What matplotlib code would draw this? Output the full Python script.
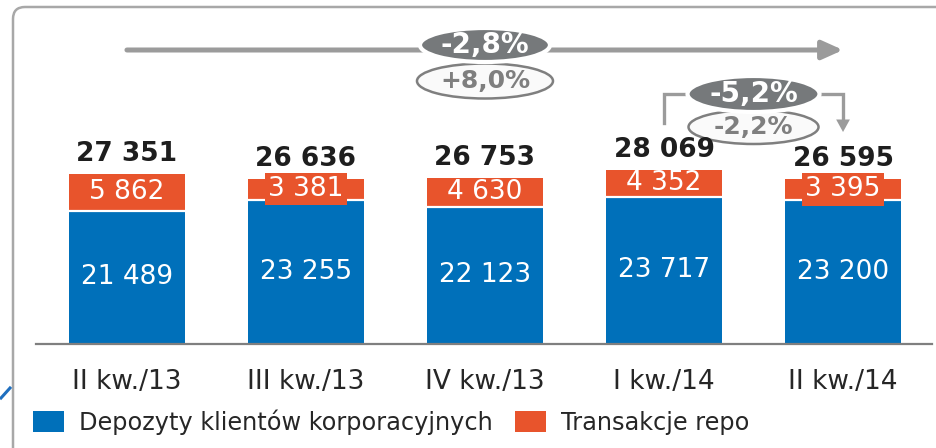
import matplotlib
matplotlib.use("Agg")
import matplotlib.pyplot as plt
from matplotlib.patches import Ellipse, PathPatch, Patch
from matplotlib.path import Path
from matplotlib.lines import Line2D
from matplotlib.transforms import IdentityTransform

# ---- data ----
categories = ["II kw./13", "III kw./13", "IV kw./13", "I kw./14", "II kw./14"]
depozyty = [21489, 23255, 22123, 23717, 23200]
repo = [5862, 3381, 4630, 4352, 3395]
totals = [27351, 26636, 26753, 28069, 26595]
series_names = ["Depozyty klientów korporacyjnych", "Transakcje repo"]
change_total_yoy = "-2,8%"
change_repo_yoy = "+8,0%"
change_total_qoq = "-5,2%"
change_repo_qoq = "-2,2%"

BLUE = "#0070BA"
ORANGE = "#E8542C"
DARK = "#76797B"
GRAY = "#9B9B9B"

def fmt(v):
    return f"{v:,}".replace(",", " ")

W, H = 937, 448
fig = plt.figure(figsize=(W / 100, H / 100), dpi=100)
plt.rcParams["font.family"] = ["DejaVu Sans"]

# axes: baseline at 344 px from top, 1 px = 161 units vertically
base_px = 344
ax = fig.add_axes([36 / W, (H - base_px) / H, 896 / W, 336 / H])
YPX = 161.0   # data units per pixel (y)
XPX = 1 / 179.0  # data units per pixel (x)
ax.set_xlim(-0.508, 4.497)
ax.set_ylim(0, 336 * YPX)

def ypix(p):  # pixel from top -> data y
    return (base_px - p) * YPX

x = list(range(len(categories)))
bw = 0.65
ax.bar(x, depozyty, width=bw, color=BLUE, zorder=2)
ax.bar(x, repo, width=bw, bottom=depozyty, color=ORANGE, zorder=2)
for xi, d in zip(x, depozyty):
    ax.hlines(d, xi - bw / 2, xi + bw / 2, color="white", lw=1.6, zorder=3)

for xi, d, r, t in zip(x, depozyty, repo, totals):
    ax.text(xi, d / 2, fmt(d), ha="center", va="center", color="white",
            fontsize=19, zorder=4)
    bb = None
    if r / YPX < 26:
        bb = dict(boxstyle="square,pad=0.12", fc=ORANGE, ec="none")
    ax.text(xi, d + r / 2, fmt(r), ha="center", va="center", color="white",
            fontsize=19, zorder=4, bbox=bb)
    ax.annotate(fmt(t), (xi, d + r), xytext=(0, 5), textcoords="offset points",
                ha="center", va="bottom", fontsize=19, fontweight="bold",
                color="#1E1E1E", zorder=9)

# axis styling
for s in ["top", "right", "left"]:
    ax.spines[s].set_visible(False)
ax.spines["bottom"].set_color("#7F7F7F")
ax.spines["bottom"].set_linewidth(1.6)
ax.set_yticks([])
ax.set_xticks(x)
ax.set_xticklabels(categories, fontsize=19, color="#262626")
ax.tick_params(axis="x", length=0, pad=18)

# ---- big arrow (II kw./13 -> II kw./14) ----
y_big = ypix(50)
ax.annotate("", xy=(4, y_big), xytext=(0, y_big),
            arrowprops=dict(arrowstyle="-|>,head_length=1.0,head_width=0.45",
                            mutation_scale=12.5, lw=3.6, color=GRAY,
                            shrinkA=0, shrinkB=0),
            annotation_clip=False, zorder=5)
e1 = Ellipse((2, ypix(45)), 130 * XPX, 34 * YPX, fc=DARK, ec="white", lw=3,
             zorder=7, clip_on=False)
ax.add_patch(e1)
ax.text(2, ypix(45), change_total_yoy, ha="center", va="center", color="white",
        fontsize=20, fontweight="bold", zorder=8)
e2 = Ellipse((2, ypix(81)), 136 * XPX, 35 * YPX, fc="#FAFAFA", ec="#7F7F7F",
             lw=1.8, zorder=6, clip_on=False)
ax.add_patch(e2)
ax.text(2, ypix(81), change_repo_yoy, ha="center", va="center", color="#7F7F7F",
        fontsize=18, fontweight="bold", zorder=8)

# ---- bracket arrow (I kw./14 -> II kw./14) ----
y_top = ypix(94)
ax.plot([3, 3, 4, 4], [ypix(123), y_top, y_top, ypix(125)], color=GRAY,
        lw=2.4, solid_joinstyle="miter", zorder=5, clip_on=False)
ax.annotate("", xy=(4, ypix(132)), xytext=(4, ypix(118)),
            arrowprops=dict(arrowstyle="-|>,head_length=1.0,head_width=0.55",
                            mutation_scale=9, lw=0, color=GRAY,
                            shrinkA=0, shrinkB=0),
            annotation_clip=False, zorder=5)
e3 = Ellipse((3.5, ypix(94)), 132 * XPX, 36 * YPX, fc=DARK, ec="white", lw=3,
             zorder=7, clip_on=False)
ax.add_patch(e3)
ax.text(3.5, ypix(94), change_total_qoq, ha="center", va="center", color="white",
        fontsize=20, fontweight="bold", zorder=8)
e4 = Ellipse((3.5, ypix(127)), 130 * XPX, 34 * YPX, fc="#FAFAFA", ec="#7F7F7F",
             lw=1.8, zorder=6, clip_on=False)
ax.add_patch(e4)
ax.text(3.5, ypix(127), change_repo_qoq, ha="center", va="center", color="#7F7F7F",
        fontsize=18, fontweight="bold", zorder=8)

# ---- frame (left + top edge with rounded corner) ----
top = H - 7
r = 12
verts = [(13, -10), (13, top - r), (13, top), (13 + r, top), (W + 20, top)]
codes = [Path.MOVETO, Path.LINETO, Path.CURVE3, Path.CURVE3, Path.LINETO]
frame = PathPatch(Path(verts, codes), transform=IdentityTransform(),
                  fc="none", ec="#A8A8A8", lw=1.8, zorder=0)
fig.patches.append(frame)
fig.lines.append(Line2D([1, 10], [H - 398, H - 388], transform=IdentityTransform(),
                        color="#1F6FBF", lw=2.2))

# ---- legend ----
handles = [Patch(fc=BLUE, ec="none"), Patch(fc=ORANGE, ec="none")]
fig.legend(handles, series_names, loc="center left",
           bbox_to_anchor=(33 / W, (H - 422) / H), ncol=2, frameon=False,
           fontsize=17.3, handlelength=1.3, handleheight=0.95, handletextpad=0.6,
           columnspacing=0.95, borderaxespad=0, borderpad=0,
           labelcolor="#262626")

fig.savefig("out.png", dpi=100)
